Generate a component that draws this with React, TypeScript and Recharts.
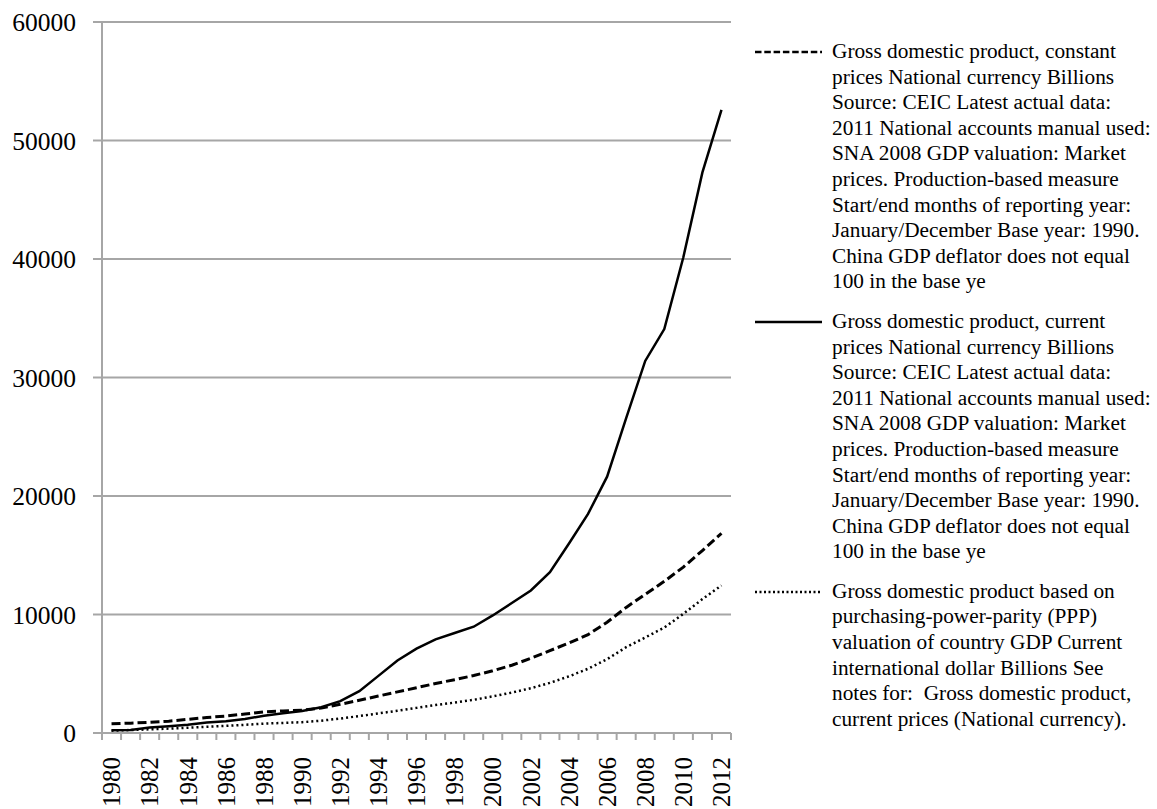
import React from "react";
import { LineChart, Line, XAxis, YAxis, CartesianGrid } from "recharts";

const years = [
  "1980", "1981", "1982", "1983", "1984", "1985", "1986", "1987", "1988", "1989",
  "1990", "1991", "1992", "1993", "1994", "1995", "1996", "1997", "1998", "1999",
  "2000", "2001", "2002", "2003", "2004", "2005", "2006", "2007", "2008", "2009",
  "2010", "2011", "2012",
];

// GDP, constant prices (national currency, billions)
const constantPrices = [
  780, 830, 900, 1000, 1150, 1310, 1430, 1600, 1780, 1860,
  1920, 2110, 2420, 2760, 3120, 3470, 3820, 4180, 4500, 4850,
  5250, 5720, 6300, 6950, 7600, 8300, 9350, 10600, 11700, 12800,
  14000, 15400, 16850,
];

// GDP, current prices (national currency, billions)
const currentPrices = [
  240, 260, 460, 560, 690, 880, 1000, 1180, 1460, 1660,
  1860, 2180, 2690, 3530, 4820, 6120, 7120, 7900, 8440, 8970,
  9920, 10970, 12030, 13580, 15990, 18490, 21630, 26580, 31400, 34090,
  40150, 47310, 52590,
];

// GDP based on PPP (current international dollar, billions)
const pppValues = [
  200, 250, 310, 370, 450, 530, 600, 690, 790, 850,
  910, 1040, 1220, 1430, 1650, 1880, 2120, 2360, 2570, 2800,
  3090, 3410, 3780, 4230, 4780, 5420, 6230, 7240, 8060, 8900,
  10050, 11300, 12450,
];

const yTicks = [0, 10000, 20000, 30000, 40000, 50000, 60000];

const constantLegend = [
  "Gross domestic product, constant",
  "prices National currency Billions",
  "Source: CEIC Latest actual data:",
  "2011 National accounts manual used:",
  "SNA 2008 GDP valuation: Market",
  "prices. Production-based measure",
  "Start/end months of reporting year:",
  "January/December Base year: 1990.",
  "China GDP deflator does not equal",
  "100 in the base ye",
];

const currentLegend = [
  "Gross domestic product, current",
  "prices National currency Billions",
  "Source: CEIC Latest actual data:",
  "2011 National accounts manual used:",
  "SNA 2008 GDP valuation: Market",
  "prices. Production-based measure",
  "Start/end months of reporting year:",
  "January/December Base year: 1990.",
  "China GDP deflator does not equal",
  "100 in the base ye",
];

const pppLegend = [
  "Gross domestic product based on",
  "purchasing-power-parity (PPP)",
  "valuation of country GDP Current",
  "international dollar Billions See",
  "notes for:\u00a0 Gross domestic product,",
  "current prices (National currency).",
];

const FONT = '"Liberation Serif", "Times New Roman", serif';
const GRID = "#a6a6a6";

const data = years.map((year, i) => ({
  x: i,
  year,
  constant: constantPrices[i],
  current: currentPrices[i],
  ppp: pppValues[i],
}));

// tick marks sit between categories, labels on every other year
const boundaryTicks = years.map((_, i) => i - 0.5).concat(years.length - 0.5);
const labelTicks = years.map((_, i) => i).filter((i) => i % 2 === 0);
const xDomain = [-0.5, years.length - 0.5];

function YearTick(props: any) {
  const { x, y, payload } = props;
  const ty = y + 17;
  return (
    <text
      x={x}
      y={ty}
      dy="0.35em"
      transform={`rotate(-90 ${x} ${ty})`}
      textAnchor="end"
      fontFamily={FONT}
      fontSize={25}
      fill="#000"
    >
      {years[payload.value]}
    </text>
  );
}

function LegendEntry({ lines, dash }: { lines: string[]; dash?: string }) {
  return (
    <div style={{ position: "relative", paddingLeft: 77 }}>
      <svg width={67} height={4} style={{ position: "absolute", left: 0, top: 11 }}>
        <line x1={0} y1={2} x2={67} y2={2} stroke="#000" strokeWidth={2.5} strokeDasharray={dash} />
      </svg>
      {lines.map((l, i) => (
        <div key={i} style={{ whiteSpace: "nowrap" }}>
          {l}
        </div>
      ))}
    </div>
  );
}

export default function App() {
  return (
    <div style={{ position: "relative", width: 1157, height: 809, background: "#fff", overflow: "hidden" }}>
      <style>{`html,body{margin:0;padding:0;overflow:hidden;background:#fff}`}</style>
      <LineChart
        width={740}
        height={809}
        data={data}
        margin={{ top: 22, right: 9, left: 0, bottom: 0 }}
      >
        <CartesianGrid vertical={false} stroke={GRID} strokeWidth={2} />
        <XAxis
          xAxisId={0}
          type="number"
          dataKey="x"
          domain={xDomain}
          allowDataOverflow
          ticks={boundaryTicks}
          interval={0}
          height={7}
          tickSize={7}
          tick={() => <g />}
          tickLine={{ stroke: GRID, strokeWidth: 2 }}
          axisLine={{ stroke: GRID, strokeWidth: 2 }}
        />
        <XAxis
          xAxisId={1}
          type="number"
          dataKey="x"
          domain={xDomain}
          allowDataOverflow
          ticks={labelTicks}
          interval={0}
          height={69}
          tickSize={0}
          tickMargin={0}
          tick={<YearTick />}
          tickLine={false}
          axisLine={false}
        />
        <YAxis
          type="number"
          domain={[0, 60000]}
          ticks={yTicks}
          interval={0}
          width={102}
          tickSize={9}
          tickMargin={17}
          tickLine={{ stroke: GRID, strokeWidth: 2 }}
          axisLine={{ stroke: GRID, strokeWidth: 2 }}
          tick={{ fontFamily: FONT, fontSize: 25.5, fill: "#000" }}
        />
        <Line
          xAxisId={0}
          type="linear"
          dataKey="constant"
          stroke="#000"
          strokeWidth={3}
          strokeDasharray="9 4"
          dot={false}
          isAnimationActive={false}
        />
        <Line
          xAxisId={0}
          type="linear"
          dataKey="current"
          stroke="#000"
          strokeWidth={2.5}
          dot={false}
          isAnimationActive={false}
        />
        <Line
          xAxisId={0}
          type="linear"
          dataKey="ppp"
          stroke="#000"
          strokeWidth={2.5}
          strokeDasharray="2 3"
          dot={false}
          isAnimationActive={false}
        />
      </LineChart>
      <div
        style={{
          position: "absolute",
          left: 755,
          top: 39,
          fontFamily: FONT,
          fontSize: 21.3,
          lineHeight: "25.6px",
          color: "#000",
          display: "flex",
          flexDirection: "column",
          gap: 14,
        }}
      >
        <LegendEntry lines={constantLegend} dash="6.5 2.8" />
        <LegendEntry lines={currentLegend} />
        <LegendEntry lines={pppLegend} dash="2 2.5" />
      </div>
    </div>
  );
}
